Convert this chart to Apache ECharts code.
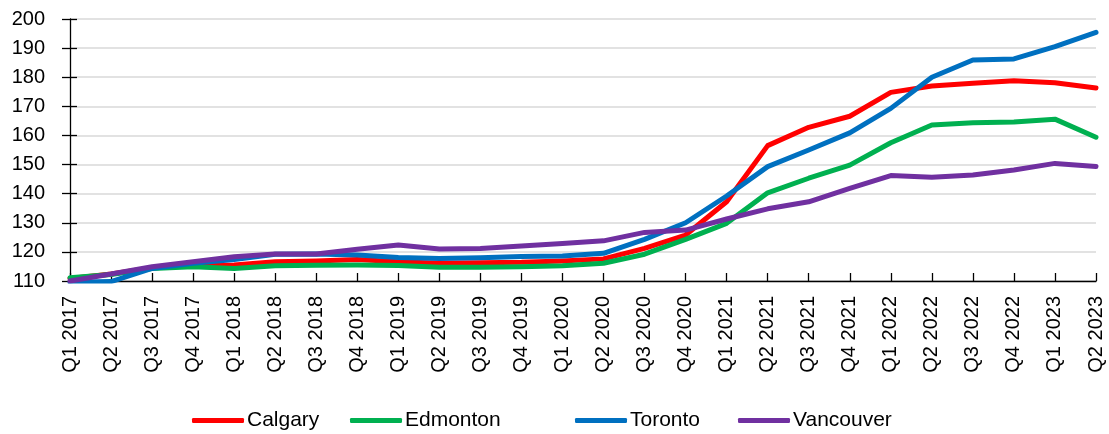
<!DOCTYPE html>
<html>
<head>
<meta charset="utf-8">
<script src="https://cdn.jsdelivr.net/npm/echarts@6/dist/echarts.min.js"></script>
<style>
  html, body { margin: 0; padding: 0; background: #fff; }
  #main { width: 1109px; height: 434px; }
</style>
</head>
<body>
<div id="main"></div>
<script>
// quarters on the x axis
var quarters = ['Q1 2017', 'Q2 2017', 'Q3 2017', 'Q4 2017',
  'Q1 2018', 'Q2 2018', 'Q3 2018', 'Q4 2018',
  'Q1 2019', 'Q2 2019', 'Q3 2019', 'Q4 2019',
  'Q1 2020', 'Q2 2020', 'Q3 2020', 'Q4 2020',
  'Q1 2021', 'Q2 2021', 'Q3 2021', 'Q4 2021',
  'Q1 2022', 'Q2 2022', 'Q3 2022', 'Q4 2022',
  'Q1 2023', 'Q2 2023'];

// values
var calgary = [110.9, 112.4, 114.6, 115.3, 115.5, 116.6, 116.9, 117.4, 116.6, 116.1, 116.3, 116.4, 116.9,
  117.6, 121.2, 125.8, 137.2, 156.5, 162.8, 166.6, 174.8, 177.0, 177.9, 178.8, 178.1, 176.3];
var edmonton = [111.1, 112.2, 114.3, 114.9, 114.3, 115.2, 115.4, 115.5, 115.3, 114.7, 114.7, 114.9, 115.2,
  116.1, 119.2, 124.3, 129.8, 140.3, 145.3, 149.8, 157.5, 163.6, 164.4, 164.6, 165.6, 159.4];
var toronto = [109.6, 109.8, 114.3, 116.1, 117.4, 119.2, 119.3, 118.9, 118.1, 117.7, 118.0, 118.4, 118.6,
  119.5, 124.3, 130.0, 139.2, 149.3, 155.0, 160.9, 169.3, 180.0, 185.9, 186.3, 190.5, 195.4];
var vancouver = [110.0, 112.4, 114.9, 116.6, 118.3, 119.3, 119.3, 120.9, 122.4, 121.0, 121.2, 122.0, 122.9,
  123.8, 126.7, 127.5, 131.3, 134.8, 137.2, 141.8, 146.2, 145.6, 146.4, 148.1, 150.4, 149.3];

var names = ['Calgary', 'Edmonton', 'Toronto', 'Vancouver'];
var colors = ['#FF0000', '#00B050', '#0070C0', '#7030A0'];
var values = [calgary, edmonton, toronto, vancouver];
var legendLeft = [187, 345, 570, 733];

var font = 'Liberation Sans';

var myChart = echarts.init(document.getElementById('main'));

var yBase = {
  type: 'value',
  min: 110,
  max: 200,
  interval: 10,
  position: 'left'
};

myChart.setOption({
  animation: false,
  color: colors,
  grid: { left: 70, right: 13, top: 19, bottom: 153 },
  legend: names.map(function (n, i) {
    return {
      data: [n],
      left: legendLeft[i],
      top: 405,
      icon: 'roundRect',
      itemWidth: 52,
      itemHeight: 5,
      itemGap: 0,
      textStyle: { fontFamily: font, fontSize: 21, color: '#000', padding: [0, 0, 0, -2] }
    };
  }),
  xAxis: {
    type: 'category',
    data: quarters,
    boundaryGap: false,
    axisLine: { lineStyle: { color: '#000', width: 1.3 } },
    axisTick: { inside: true, length: 8, lineStyle: { color: '#000', width: 1.3 } },
    axisLabel: { rotate: 90, margin: 15, interval: 0, fontFamily: font, fontSize: 20, color: '#000' },
    splitLine: { show: false }
  },
  yAxis: [
    Object.assign({}, yBase, {
      axisLine: { show: true, lineStyle: { color: '#000', width: 1.3 } },
      axisTick: { show: true, length: 8, lineStyle: { color: '#000', width: 1.3 } },
      axisLabel: { margin: 25, fontFamily: font, fontSize: 20, color: '#000' },
      splitLine: { show: true, lineStyle: { color: '#D9D9D9', width: 1.5 } }
    }),
    // second axis only for the inner half of the crossing ticks
    Object.assign({}, yBase, {
      axisLine: { show: false },
      axisTick: { show: true, inside: true, length: 7, lineStyle: { color: '#000', width: 1.3 } },
      axisLabel: { show: false },
      splitLine: { show: false }
    })
  ],
  series: names.map(function (n, i) {
    return {
      name: n,
      type: 'line',
      data: values[i],
      showSymbol: false,
      symbol: 'none',
      lineStyle: { width: 5, color: colors[i], cap: 'round', join: 'round' },
      itemStyle: { color: colors[i] }
    };
  })
});
</script>
</body>
</html>
